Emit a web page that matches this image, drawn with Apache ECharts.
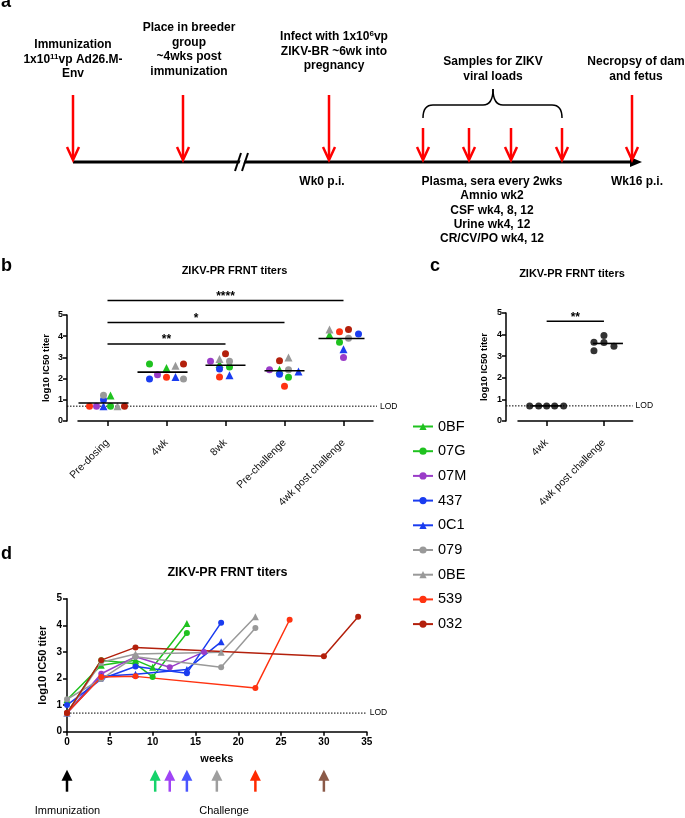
<!DOCTYPE html>
<html><head><meta charset="utf-8">
<script src="https://cdn.jsdelivr.net/npm/echarts@6/dist/echarts.min.js"></script>
<style>html,body{margin:0;padding:0;background:#fff}#c{width:685px;height:818px}</style>
</head><body><div id="c"></div>
<script>
// ---------- DATA ----------
const animals = ['0BF','07G','07M','437','0C1','079','0BE','539','032'];
const timepointsB = ['Pre-dosing','4wk','8wk','Pre-challenge','4wk post challenge'];
const preDosing     = [1.2, 0.7, 0.7, 1.0, 0.7, 1.22, 0.7, 0.7, 0.7];
const wk4           = [2.5, 2.69, 2.18, 1.98, 2.08, 1.98, 2.61, 2.06, 2.69];
const wk8           = [2.69, 2.55, 2.82, 2.45, 2.16, 2.82, 2.92, 2.08, 3.17];
const preChallenge  = [2.42, 2.06, 2.42, 2.2, 2.34, 2.42, 2.99, 1.64, 2.84];
const postChallenge = [4.07, 3.71, 3.0, 4.1, 3.38, 3.9, 4.32, 4.21, 4.32];
const sigBarsB = [[0, 2, 3.63], [0, 3, 4.65], [0, 4, 5.68]];
const sigLabelsB = ['**', '*', '****'];
const lodValue = 0.7;

const timepointsC = ['4wk', '4wk post challenge'];
const c4wk  = [0.7, 0.7, 0.7, 0.7, 0.7];
const cPost = [3.65, 3.96, 3.63, 3.25, 3.46];
const sigBarsC = [[0, 1, 4.62]];
const sigLabelsC = ['**'];

const sampleWeeksD = [0, 4, 8];
const challengeWeek = [10, 10, 12, 14, 14, 18, 18, 22, 30];
const postWeeksAfterChallenge = 4;
const arrowWeeks = [0, 10.3, 12, 14, 17.5, 22, 30];

// ---------- STYLES / LAYOUT ----------
const FONT = '"Liberation Sans", Arial, Helvetica, sans-serif';
const animalColors  = ['#1fc21f','#1fc21f','#9a3cc8','#1a3cf0','#1a3cf0','#999999','#999999','#ff3311','#b3200c'];
const animalSymbols = ['triangle','circle','circle','circle','triangle','circle','triangle','circle','circle'];
const arrowColors = ['#000000','#16d36b','#a044f5','#4a55ff','#9e9e9e','#ff2a00','#8b5a48'];
const jitterB = [
  [3, 3, -11, -4, -4, -4, 10, -18, 17],
  [0, -17, -9, -17, 9, 17, 9, 0, 17],
  [-6, 4, -15, -6, 4, 4, -6, -6, 0],
  [-5, 4, -15, -5, 14, 4, 4, 0, -5],
  [-14, -4, 0, 15, 0, 5, -14, -4, 5]
];
const jitterC = [[-17, -8, 0, 8, 17], [-10, 0, 0, -10, 10]];
const meanHalfB = [25, 25, 20, 20, 23], meanShiftB = [-4, -4, 0, 0, -2];
const meanHalfC = [15, 15], meanShiftC = [0, 4];

const seriesB = [preDosing, wk4, wk8, preChallenge, postChallenge];
const seriesC = [c4wk, cPost];
const mean = a => a.reduce((s, v) => s + v, 0) / a.length;

const chart = echarts.init(document.getElementById('c'), null, {renderer: 'canvas'});

function axisCommon(extra) {
  return Object.assign({
    axisLine: {show: true, lineStyle: {color: '#000', width: 1.5}},
    axisTick: {show: true, length: 4, lineStyle: {color: '#000', width: 1.5}},
    splitLine: {show: false},
    axisLabel: {color: '#000', fontFamily: FONT, fontWeight: 'bold', fontSize: 9, margin: 4}
  }, extra);
}

function meanRender(half, shift) {
  return function (params, api) {
    const p = api.coord([api.value(0), api.value(1)]);
    const i = params.dataIndex;
    return {type: 'line', shape: {x1: p[0] + shift[i] - half[i], y1: p[1], x2: p[0] + shift[i] + half[i], y2: p[1]},
      style: {stroke: '#000', lineWidth: 1.6}};
  };
}
function sigRender(labels) {
  return function (params, api) {
    const a = api.coord([api.value(0), api.value(2)]);
    const b = api.coord([api.value(1), api.value(2)]);
    return {type: 'group', children: [
      {type: 'line', shape: {x1: a[0], y1: a[1], x2: b[0], y2: b[1]}, style: {stroke: '#000', lineWidth: 1.5}},
      {type: 'text', style: {text: labels[params.dataIndex], x: (a[0] + b[0]) / 2, y: a[1] + 2,
        textAlign: 'center', textVerticalAlign: 'bottom', fontSize: 12, fontWeight: 'bold', fontFamily: FONT, fill: '#000'}}
    ]};
  };
}
function lodRender(leftExtra, rightExtra) {
  return function (params, api) {
    const cs = params.coordSys;
    const y = api.coord([0, api.value(1)])[1];
    const x1 = cs.x - leftExtra, x2 = cs.x + cs.width + rightExtra;
    return {type: 'group', children: [
      {type: 'line', shape: {x1: x1, y1: y, x2: x2, y2: y}, style: {stroke: '#000', lineWidth: 1, lineDash: [1.5, 1.5]}},
      {type: 'text', style: {text: 'LOD', x: x2 + 3, y: y, textVerticalAlign: 'middle', fontSize: 8.5, fontFamily: FONT, fill: '#000'}}
    ]};
  };
}

const series = [];
// Panel b scatter
animals.forEach((name, i) => {
  series.push({
    type: 'scatter', name: 'b-' + name, xAxisIndex: 0, yAxisIndex: 0,
    symbol: animalSymbols[i], symbolSize: animalSymbols[i] === 'triangle' ? 8 : 7,
    itemStyle: {color: animalColors[i], opacity: 1},
    data: seriesB.map((arr, t) => ({value: [t, arr[i]], symbolOffset: [jitterB[t][i], 0]})),
    z: 3
  });
});
series.push({type: 'custom', xAxisIndex: 0, yAxisIndex: 0, renderItem: meanRender(meanHalfB, meanShiftB),
  data: seriesB.map((arr, t) => [t, mean(arr)]), z: 4, silent: true});
series.push({type: 'custom', xAxisIndex: 0, yAxisIndex: 0, renderItem: sigRender(sigLabelsB),
  encode: {x: [0, 1], y: 2}, data: sigBarsB, silent: true});
series.push({type: 'custom', xAxisIndex: 0, yAxisIndex: 0, renderItem: lodRender(11, 4),
  data: [[0, lodValue]], silent: true, z: 1});

// Panel c
series.push({
  type: 'scatter', name: 'c-data', xAxisIndex: 1, yAxisIndex: 1, symbol: 'circle', symbolSize: 7,
  itemStyle: {color: '#000'},
  data: seriesC.flatMap((arr, t) => arr.map((v, k) => ({value: [t, v], symbolOffset: [jitterC[t][k], 0]}))), z: 3
});
series.push({type: 'custom', xAxisIndex: 1, yAxisIndex: 1, renderItem: meanRender(meanHalfC, meanShiftC),
  data: seriesC.map((arr, t) => [t, mean(arr)]), z: 2, silent: true});
series.push({type: 'custom', xAxisIndex: 1, yAxisIndex: 1, renderItem: sigRender(sigLabelsC),
  encode: {x: [0, 1], y: 2}, data: sigBarsC, silent: true});
series.push({type: 'custom', xAxisIndex: 1, yAxisIndex: 1, renderItem: lodRender(12, 0),
  data: [[0, lodValue]], silent: true, z: 1});

// Panel d lines
animals.forEach((name, i) => {
  const weeks = sampleWeeksD.concat([challengeWeek[i], challengeWeek[i] + postWeeksAfterChallenge]);
  const vals = seriesB.map(arr => arr[i]);
  series.push({
    type: 'line', name: name, xAxisIndex: 2, yAxisIndex: 2,
    symbol: animalSymbols[i], symbolSize: animalSymbols[i] === 'triangle' ? 7 : 6, showAllSymbol: true,
    lineStyle: {color: animalColors[i], width: 1.5}, itemStyle: {color: animalColors[i]},
    data: weeks.map((w, k) => [w, vals[k]]), z: 3
  });
});
series.push({type: 'custom', xAxisIndex: 2, yAxisIndex: 2, renderItem: lodRender(0, 0),
  data: [[0, lodValue]], silent: true, z: 1});
series.push({
  type: 'custom', xAxisIndex: 2, yAxisIndex: 2, silent: true,
  data: arrowWeeks.map(w => [w, 0]),
  renderItem: function (params, api) {
    const p = api.coord([api.value(0), 0]);
    const col = arrowColors[params.dataIndex];
    const base = p[1] + 60, top = p[1] + 38;
    return {type: 'group', children: [
      {type: 'line', shape: {x1: p[0], y1: base, x2: p[0], y2: top + 8}, style: {stroke: col, lineWidth: 2.5}},
      {type: 'polygon', shape: {points: [[p[0], top], [p[0] - 5.5, top + 11], [p[0] + 5.5, top + 11]]}, style: {fill: col}}
    ]};
  }
});

// ---------- Panel a diagram (schematic) ----------
const RED = '#ff0000';
const txt = (text, x, y, opt) => ({type: 'text', silent: true, style: Object.assign({
  text: text, x: x, y: y, textAlign: 'center', textVerticalAlign: 'middle',
  fontSize: 12, fontWeight: 'bold', fontFamily: FONT, fill: '#000'}, opt || {})});
const graphics = [];
[['a', 1, 2.5], ['b', 1, 265.7], ['c', 430, 265.7], ['d', 1, 553.7]].forEach(l =>
  graphics.push(txt(l[0], l[1], l[2], {textAlign: 'left', fontSize: 18})));
graphics.push(txt('ZIKV-PR FRNT titers', 234.5, 271, {fontSize: 11}));
graphics.push(txt('ZIKV-PR FRNT titers', 572, 274, {fontSize: 11}));
graphics.push(txt('ZIKV-PR FRNT titers', 227.5, 573, {fontSize: 12.5}));
graphics.push(txt('Immunization', 67.5, 811, {fontWeight: 'normal', fontSize: 11}));
graphics.push(txt('Challenge', 224, 811, {fontWeight: 'normal', fontSize: 11}));

// timeline
const TL_Y = 162;
graphics.push({type: 'line', silent: true, shape: {x1: 73, y1: TL_Y, x2: 634, y2: TL_Y}, style: {stroke: '#000', lineWidth: 3}});
graphics.push({type: 'polygon', silent: true, shape: {points: [[630, TL_Y - 5], [642, TL_Y], [630, TL_Y + 5]]}, style: {fill: '#000'}});
// break marks
graphics.push({type: 'polygon', silent: true, shape: {points: [[237, 171], [243, 153], [247, 153], [241, 171]]}, style: {fill: '#fff'}});
graphics.push({type: 'line', silent: true, shape: {x1: 235, y1: 171, x2: 241, y2: 153}, style: {stroke: '#000', lineWidth: 2}});
graphics.push({type: 'line', silent: true, shape: {x1: 242, y1: 171, x2: 248, y2: 153}, style: {stroke: '#000', lineWidth: 2}});
// red arrows
[[73, 95], [183, 95], [329, 95], [423, 128], [469, 128], [511, 128], [562, 128], [632, 95]].forEach(a => {
  const x = a[0], tip = 160;
  graphics.push({type: 'line', silent: true, shape: {x1: x, y1: a[1], x2: x, y2: tip - 1}, style: {stroke: RED, lineWidth: 2.5}});
  graphics.push({type: 'polyline', silent: true, shape: {points: [[x - 6, tip - 13], [x, tip], [x + 6, tip - 13]]}, style: {stroke: RED, lineWidth: 2.5, fill: null}});
});
// brace
const bz = (x1, y1, cx, cy, x2, y2) => ({type: 'bezierCurve', silent: true, shape: {x1: x1, y1: y1, cpx1: cx, cpy1: cy, x2: x2, y2: y2}, style: {stroke: '#000', lineWidth: 1.5, fill: null}});
graphics.push(bz(423, 118, 423, 105, 433, 105));
graphics.push({type: 'line', silent: true, shape: {x1: 433, y1: 105, x2: 483, y2: 105}, style: {stroke: '#000', lineWidth: 1.5}});
graphics.push(bz(483, 105, 493, 105, 493, 89));
graphics.push(bz(493, 89, 493, 105, 503, 105));
graphics.push({type: 'line', silent: true, shape: {x1: 503, y1: 105, x2: 552, y2: 105}, style: {stroke: '#000', lineWidth: 1.5}});
graphics.push(bz(552, 105, 562, 105, 562, 118));
// texts above
const rich = {s: {fontSize: 8, fontWeight: 'bold', fontFamily: FONT, verticalAlign: 'top', padding: [0, 0, 6, 0]}, n: {fontSize: 12, fontWeight: 'bold', fontFamily: FONT}};
graphics.push(txt('Immunization', 73, 45));
graphics.push(txt('{n|1x10}{s|11}{n|vp Ad26.M-}', 73, 60, {rich: rich}));
graphics.push(txt('Env', 73, 73.5));
['Place in breeder', 'group', '~4wks post', 'immunization'].forEach((t, k) => graphics.push(txt(t, 189, 28 + k * 14.5)));
graphics.push(txt('{n|Infect with 1x10}{s|6}{n|vp}', 334, 37, {rich: rich}));
graphics.push(txt('ZIKV-BR ~6wk into', 334, 51.5));
graphics.push(txt('pregnancy', 334, 66));
graphics.push(txt('Samples for ZIKV', 493, 62));
graphics.push(txt('viral loads', 493, 77));
graphics.push(txt('Necropsy of dam', 636, 62));
graphics.push(txt('and fetus', 636, 77));
// texts below
graphics.push(txt('Wk0 p.i.', 322, 181.5));
['Plasma, sera every 2wks', 'Amnio wk2', 'CSF wk4, 8, 12', 'Urine wk4, 12', 'CR/CV/PO wk4, 12'].forEach((t, k) =>
  graphics.push(txt(t, 492, 181.5 + k * 14.4)));
graphics.push(txt('Wk16 p.i.', 637, 181.5));

const option = {
  animation: false,
  backgroundColor: '#fff',
  textStyle: {fontFamily: FONT},
  grid: [
    {left: 78, top: 315, width: 295, height: 106},
    {left: 518, top: 313, width: 114.6, height: 108},
    {left: 67, top: 598.7, width: 299.7, height: 133}
  ],
  xAxis: [
    axisCommon({gridIndex: 0, type: 'category', data: timepointsB, offset: 12, boundaryGap: true,
      axisTick: {show: true, alignWithLabel: true, length: 5, lineStyle: {color: '#000', width: 1.5}},
      axisLabel: {interval: 0, rotate: 45, color: '#111', fontFamily: FONT, fontSize: 10.5, margin: 8}}),
    axisCommon({gridIndex: 1, type: 'category', data: timepointsC, offset: 12, boundaryGap: true,
      axisTick: {show: true, alignWithLabel: true, length: 5, lineStyle: {color: '#000', width: 1.5}},
      axisLabel: {interval: 0, rotate: 45, color: '#111', fontFamily: FONT, fontSize: 10.5, margin: 8}}),
    axisCommon({gridIndex: 2, type: 'value', min: 0, max: 35, interval: 5, name: 'weeks', nameLocation: 'middle', nameGap: 22,
      nameTextStyle: {color: '#000', fontFamily: FONT, fontWeight: 'bold', fontSize: 11},
      axisLabel: {color: '#000', fontFamily: FONT, fontWeight: 'bold', fontSize: 10, margin: 6}})
  ],
  yAxis: [
    axisCommon({gridIndex: 0, type: 'value', min: 0, max: 5, interval: 1, offset: 11, name: 'log10 IC50 titer',
      nameLocation: 'middle', nameGap: 16, nameTextStyle: {color: '#000', fontFamily: FONT, fontWeight: 'bold', fontSize: 9.5}}),
    axisCommon({gridIndex: 1, type: 'value', min: 0, max: 5, interval: 1, offset: 12, name: 'log10 IC50 titer',
      nameLocation: 'middle', nameGap: 17, nameTextStyle: {color: '#000', fontFamily: FONT, fontWeight: 'bold', fontSize: 9.5}}),
    axisCommon({gridIndex: 2, type: 'value', min: 0, max: 5, interval: 1, name: 'log10 IC50 titer',
      nameLocation: 'middle', nameGap: 19, nameTextStyle: {color: '#000', fontFamily: FONT, fontWeight: 'bold', fontSize: 11},
      axisLabel: {color: '#000', fontFamily: FONT, fontWeight: 'bold', fontSize: 10, margin: 5}})
  ],
  legend: {
    data: animals, orient: 'vertical', left: 407, top: 414, itemWidth: 20, itemHeight: 9, itemGap: 9.7,
    selectedMode: false,
    textStyle: {color: '#000', fontFamily: FONT, fontSize: 14.5, lineHeight: 15}
  },
  graphic: graphics,
  series: series
};
chart.setOption(option);
</script>
</body></html>
